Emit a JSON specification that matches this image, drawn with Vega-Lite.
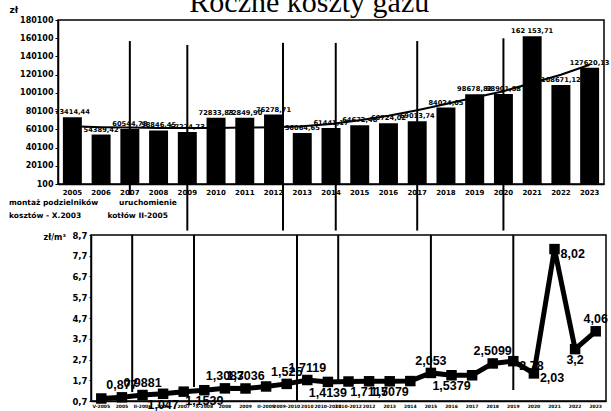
{
  "$schema": "https://vega.github.io/schema/vega-lite/v6.json",
  "padding": {"left": 8, "top": -12, "right": 4, "bottom": 2},
  "background": "white",
  "title": {"text": "Roczne koszty gazu", "font": "Liberation Serif", "fontSize": 30, "fontWeight": "normal", "color": "black", "anchor": "middle", "offset": -14},
  "spacing": -36,
  "bounds": "full",
  "config": {
    "view": {"stroke": "black", "strokeWidth": 1.5},
    "axis": {"domainColor": "black", "domainWidth": 1.5, "tickColor": "black", "labelColor": "black", "titleColor": "black", "grid": false, "labelFont": "DejaVu Sans", "labelFontWeight": "bold", "titleFont": "DejaVu Sans", "titleFontWeight": "bold", "labelOverlap": false, "labelFlush": false}
  },
  "datasets": {
    "bars": [
      {"year": "2005", "cost": 73414.44, "label": "73414,44"},
      {"year": "2006", "cost": 54389.42, "label": "54389,42"},
      {"year": "2007", "cost": 60544.78, "label": "60544,78"},
      {"year": "2008", "cost": 58846.45, "label": "58846,45"},
      {"year": "2009", "cost": 57274.73, "label": "57274,73"},
      {"year": "2010", "cost": 72833.83, "label": "72833,83"},
      {"year": "2011", "cost": 72849.9, "label": "72849,90"},
      {"year": "2012", "cost": 76278.71, "label": "76278,71"},
      {"year": "2013", "cost": 56064.65, "label": "56064,65"},
      {"year": "2014", "cost": 61441.17, "label": "61441,17"},
      {"year": "2015", "cost": 64672.48, "label": "64672,48"},
      {"year": "2016", "cost": 66724.02, "label": "66724,02"},
      {"year": "2017", "cost": 69013.74, "label": "69013,74"},
      {"year": "2018", "cost": 84024.05, "label": "84024,05"},
      {"year": "2019", "cost": 98678.82, "label": "98678,82"},
      {"year": "2020", "cost": 98901.58, "label": "98901,58"},
      {"year": "2021", "cost": 162153.71, "label": "162 153,71"},
      {"year": "2022", "cost": 108671.12, "label": "108671,12"},
      {"year": "2023", "cost": 127620.13, "label": "127620,13"}
    ],
    "trend": [
      {"year": "2005", "trend": 63500},
      {"year": "2006", "trend": 62500},
      {"year": "2007", "trend": 62000},
      {"year": "2008", "trend": 61500},
      {"year": "2009", "trend": 61500},
      {"year": "2010", "trend": 61500},
      {"year": "2011", "trend": 62000},
      {"year": "2012", "trend": 62500},
      {"year": "2013", "trend": 63500},
      {"year": "2014", "trend": 66000},
      {"year": "2015", "trend": 70000},
      {"year": "2016", "trend": 75000},
      {"year": "2017", "trend": 81000},
      {"year": "2018", "trend": 88000},
      {"year": "2019", "trend": 95000},
      {"year": "2020", "trend": 102000},
      {"year": "2021", "trend": 111000},
      {"year": "2022", "trend": 120000},
      {"year": "2023", "trend": 131000}
    ],
    "eventsTopMid": [
      {"year": "2007", "y1": 157000, "y2": -12000},
      {"year": "2009", "y1": 152700, "y2": -51000},
      {"year": "2017", "y1": 157000, "y2": -51000},
      {"year": "2020", "y1": 160000, "y2": -51000}
    ],
    "eventsTopEnd": [
      {"year": "2012", "y1": 155000, "y2": -51000}
    ],
    "eventsTopQ": [
      {"year": "2014", "y1": 155000, "y2": -51000}
    ],
    "price": [
      {"cat": "V-2005", "v": 0.82},
      {"cat": "2005", "v": 0.877, "ab": "0,877"},
      {"cat": "II-2006", "v": 0.9881, "ab": "0,9881"},
      {"cat": "2006", "v": 1.047, "bl": "1,047"},
      {"cat": "2007", "v": 1.15},
      {"cat": "X-2008", "v": 1.22, "bl": "1,1539"},
      {"cat": "2008", "v": 1.3087, "ab": "1,3087"},
      {"cat": "2009", "v": 1.3036, "ab": "1,3036"},
      {"cat": "II-2009", "v": 1.4},
      {"cat": "2009-2010", "v": 1.525, "ab": "1,525"},
      {"cat": "2010", "v": 1.7119, "ab": "1,7119"},
      {"cat": "2010-2011", "v": 1.62, "bl": "1,4139"},
      {"cat": "2010-2012", "v": 1.64},
      {"cat": "2012", "v": 1.65, "bl": "1,7115"},
      {"cat": "2013", "v": 1.65, "bl": "1,7079"},
      {"cat": "2014", "v": 1.66},
      {"cat": "2015", "v": 2.053, "ab": "2,053"},
      {"cat": "2016", "v": 1.94, "bl": "1,5379"},
      {"cat": "2017", "v": 1.94},
      {"cat": "2018", "v": 2.5099, "ab": "2,5099"},
      {"cat": "2019", "v": 2.62, "rt": "2,78"},
      {"cat": "2020", "v": 2.03, "rt": "2,03"},
      {"cat": "2021", "v": 8.02, "rt": "8,02"},
      {"cat": "2022", "v": 3.2, "bl": "3,2"},
      {"cat": "2023", "v": 4.06, "ab": "4,06"}
    ],
    "eventsBotEnd": [
      {"cat": "2005", "y1": 8.7, "y2": 1.13},
      {"cat": "2007", "y1": 8.7, "y2": 1.37},
      {"cat": "2009-2010", "y1": 8.7, "y2": 0.7},
      {"cat": "2010-2011", "y1": 8.7, "y2": 1.6}
    ],
    "eventsBotMid": [
      {"cat": "2015", "y1": 8.7, "y2": 2.2},
      {"cat": "2019", "y1": 8.7, "y2": 1.23}
    ],
    "none": []
  },
  "vconcat": [
    {
      "width": 546,
      "height": 164,
      "layer": [
        {
          "data": {"name": "bars"},
          "mark": {"type": "bar", "color": "black"},
          "encoding": {
            "x": {"field": "year", "type": "ordinal", "scale": {"paddingInner": 0.34, "paddingOuter": 0.17},
              "axis": {"title": null, "labelAngle": 0, "labelFontSize": 7, "ticks": false, "labelPadding": 4, "labelOverlap": false}},
            "y": {"field": "cost", "type": "quantitative", "scale": {"domain": [100, 180100], "nice": false, "zero": false},
              "axis": {"values": [100, 20100, 40100, 60100, 80100, 100100, 120100, 140100, 160100, 180100], "tickCount": 10, "format": "d", "labelFontSize": 8, "tickSize": 3, "labelOverlap": false, "labelSeparation": 0,
                "title": "zł", "titleAngle": 0, "titleAlign": "left", "titleBaseline": "alphabetic", "titleX": -49, "titleY": -8, "titleFontSize": 9}}
          }
        },
        {
          "data": {"name": "trend"},
          "mark": {"type": "line", "color": "black", "strokeWidth": 2},
          "encoding": {
            "x": {"field": "year", "type": "ordinal", "bandPosition": 0.5},
            "y": {"field": "trend", "type": "quantitative"}
          }
        },
        {
          "data": {"name": "bars"},
          "mark": {"type": "text", "font": "DejaVu Sans", "fontWeight": "bold", "fontSize": 6.7, "baseline": "bottom", "dy": -2, "color": "black"},
          "encoding": {
            "x": {"field": "year", "type": "ordinal", "bandPosition": 0.5},
            "y": {"field": "cost", "type": "quantitative"},
            "text": {"field": "label"}
          }
        },
        {
          "data": {"name": "eventsTopMid"},
          "mark": {"type": "rule", "color": "black", "strokeWidth": 2},
          "encoding": {
            "x": {"field": "year", "type": "ordinal", "bandPosition": 0.5},
            "y": {"field": "y1", "type": "quantitative"},
            "y2": {"field": "y2"}
          }
        },
        {
          "data": {"name": "eventsTopEnd"},
          "mark": {"type": "rule", "color": "black", "strokeWidth": 2},
          "encoding": {
            "x": {"field": "year", "type": "ordinal", "bandPosition": 1},
            "y": {"field": "y1", "type": "quantitative"},
            "y2": {"field": "y2"}
          }
        },
        {
          "data": {"name": "eventsTopQ"},
          "mark": {"type": "rule", "color": "black", "strokeWidth": 2},
          "encoding": {
            "x": {"field": "year", "type": "ordinal", "bandPosition": 0.75},
            "y": {"field": "y1", "type": "quantitative"},
            "y2": {"field": "y2"}
          }
        }
      ]
    },
    {
      "hconcat": [
        {
          "width": 1,
          "height": 166,
          "view": {"stroke": null},
          "data": {"name": "none"},
          "mark": {"type": "point", "opacity": 0},
          "encoding": {}
        },
        {
          "width": 515,
          "height": 166,
          "title": {
            "text": [
              "montaż podzielników\u00a0\u00a0\u00a0\u00a0\u00a0\u00a0\u00a0\u00a0uruchomienie",
              "\u00a0\u00a0\u00a0\u00a0kosztów - X.2003\u00a0\u00a0\u00a0\u00a0\u00a0\u00a0\u00a0\u00a0\u00a0\u00a0kotłów II-2005"
            ],
            "anchor": "start", "frame": "group", "dx": -82, "offset": 12,
            "font": "DejaVu Sans", "fontWeight": "bold", "fontSize": 7.5, "lineHeight": 13, "color": "black"
          },
          "layer": [
            {
              "data": {"name": "price"},
              "mark": {"type": "line", "color": "black", "strokeWidth": 5, "point": {"shape": "square", "size": 110, "filled": true, "color": "black"}},
              "encoding": {
                "x": {"field": "cat", "type": "ordinal", "bandPosition": 0.5,
                  "scale": {"type": "band", "paddingInner": 0, "paddingOuter": 0,
                    "domain": ["V-2005", "2005", "II-2006", "2006", "2007", "X-2008", "2008", "2009", "II-2009", "2009-2010", "2010", "2010-2011", "2010-2012", "2012", "2013", "2014", "2015", "2016", "2017", "2018", "2019", "2020", "2021", "2022", "2023"]},
                  "axis": {"title": null, "labelAngle": 0, "labelFontSize": 4.5, "ticks": false, "labelPadding": 2, "labelLimit": 40, "labelOverlap": false}},
                "y": {"field": "v", "type": "quantitative", "scale": {"domain": [0.7, 8.7], "nice": false, "zero": false},
                  "axis": {"values": [0.7, 1.7, 2.7, 3.7, 4.7, 5.7, 6.7, 7.7, 8.7], "tickCount": 9, "labelExpr": "replace(format(datum.value, '.1f'), '.', ',')", "labelFontSize": 8.5, "tickSize": 2, "labelOverlap": false, "labelSeparation": 0,
                    "title": "zł/m³", "titleAngle": 0, "titleAlign": "left", "titleBaseline": "middle", "titleX": -48, "titleY": 2, "titleFontSize": 8}}
              }
            },
            {
              "data": {"name": "eventsBotEnd"},
              "mark": {"type": "rule", "color": "black", "strokeWidth": 2},
              "encoding": {
                "x": {"field": "cat", "type": "ordinal", "bandPosition": 1},
                "y": {"field": "y1", "type": "quantitative"},
                "y2": {"field": "y2"}
              }
            },
            {
              "data": {"name": "eventsBotMid"},
              "mark": {"type": "rule", "color": "black", "strokeWidth": 2},
              "encoding": {
                "x": {"field": "cat", "type": "ordinal", "bandPosition": 0.5},
                "y": {"field": "y1", "type": "quantitative"},
                "y2": {"field": "y2"}
              }
            },
            {
              "data": {"name": "price"},
              "transform": [{"filter": "isValid(datum.ab)"}],
              "mark": {"type": "text", "font": "Liberation Sans", "fontWeight": "bold", "fontSize": 12.5, "baseline": "bottom", "dy": -5, "color": "black"},
              "encoding": {
                "x": {"field": "cat", "type": "ordinal", "bandPosition": 0.5},
                "y": {"field": "v", "type": "quantitative"},
                "text": {"field": "ab"}
              }
            },
            {
              "data": {"name": "price"},
              "transform": [{"filter": "isValid(datum.bl)"}],
              "mark": {"type": "text", "font": "Liberation Sans", "fontWeight": "bold", "fontSize": 12.5, "baseline": "top", "dy": 5, "color": "black"},
              "encoding": {
                "x": {"field": "cat", "type": "ordinal", "bandPosition": 0.5},
                "y": {"field": "v", "type": "quantitative"},
                "text": {"field": "bl"}
              }
            },
            {
              "data": {"name": "price"},
              "transform": [{"filter": "isValid(datum.rt)"}],
              "mark": {"type": "text", "font": "Liberation Sans", "fontWeight": "bold", "fontSize": 12.5, "align": "left", "baseline": "middle", "dx": 6, "dy": 5, "color": "black"},
              "encoding": {
                "x": {"field": "cat", "type": "ordinal", "bandPosition": 0.5},
                "y": {"field": "v", "type": "quantitative"},
                "text": {"field": "rt"}
              }
            }
          ]
        }
      ],
      "bounds": "flush",
      "spacing": 32
    }
  ]
}
